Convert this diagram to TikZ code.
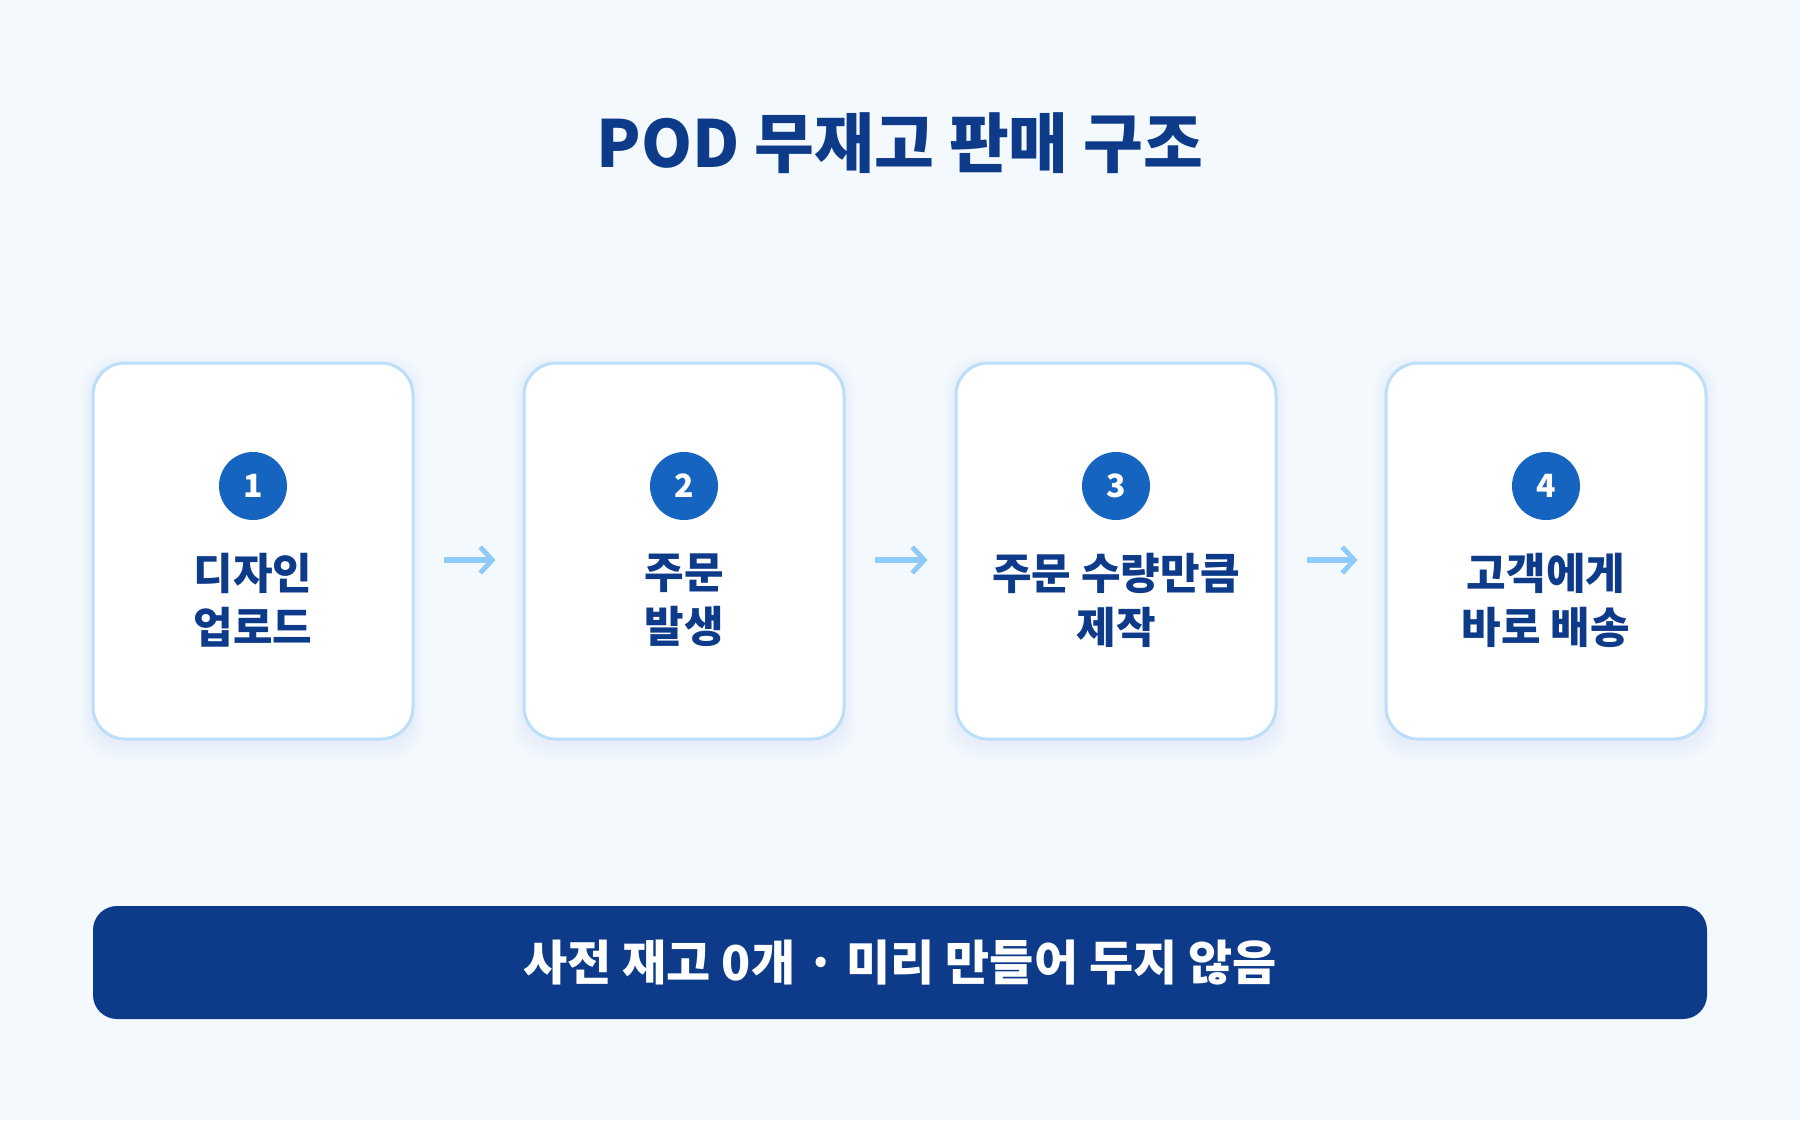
\documentclass[tikz,border=0pt]{standalone}
\usepackage{fontspec}
\setmainfont{Noto Sans CJK KR}
\usetikzlibrary{arrows.meta,shadows}
\definecolor{pagebg}{HTML}{F4F9FE}
\definecolor{cardline}{HTML}{BBDEFB}
\definecolor{badgeblue}{HTML}{1565C0}
\definecolor{navy}{HTML}{0D3B8A}
\definecolor{flowblue}{HTML}{90CAF9}
\definecolor{shade}{HTML}{7F9CD6}
\tikzset{
  card/.style={draw=cardline, line width=1.5pt, fill=white, rounded corners=16pt,
    minimum width=160pt, minimum height=188pt,
    general shadow={fill=shade, opacity=0.018, shadow scale=1.075, shadow yshift=-3pt},
    general shadow={fill=shade, opacity=0.022, shadow scale=1.055, shadow yshift=-3pt},
    general shadow={fill=shade, opacity=0.025, shadow scale=1.035, shadow yshift=-3pt},
    general shadow={fill=shade, opacity=0.03, shadow scale=1.015, shadow yshift=-2pt}},
  badge/.style={circle, fill=badgeblue, text=white, minimum size=34pt, inner sep=0pt,
    font=\bfseries\fontsize{16}{16}\selectfont},
  steptext/.style={align=center, text=navy, inner sep=0pt,
    font=\bfseries\fontsize{21.5}{27}\selectfont},
  flow/.style={draw=flowblue, line width=3.2pt,
    -{Straight Barb[length=6pt,width=13pt,line width=2.4pt]},
    shorten <=14.5pt, shorten >=13.5pt}
}
\begin{document}
\begin{tikzpicture}[x=0.5pt,y=-0.5pt]
	\fill[pagebg] (0,0) rectangle (1800,1120);
	\useasboundingbox (0,0) rectangle (1800,1120);
	
	\node[text=navy, font=\bfseries\fontsize{32.5}{32.5}\selectfont] (title) at (900,143) {POD 무재고 판매 구조};
	
	\node[card] (c1) at (253,551) {};
	\node[card] (c2) at (684,551) {};
	\node[card] (c3) at (1116,551) {};
	\node[card] (c4) at (1546,551) {};
	
	\node[badge] (n1) at (253,486) {1};
	\node[badge] (n2) at (684,486) {2};
	\node[badge] (n3) at (1116,486) {3};
	\node[badge] (n4) at (1546,486) {4};
	
	\node[steptext] (t1) at (253,600) {디자인\\업로드};
	\node[steptext] (t2) at (684,600) {주문\\발생};
	\node[steptext] (t3) at (1116,600) {주문 수량만큼\\제작};
	\node[steptext] (t4) at (1546,600) {고객에게\\바로 배송};
	
	\draw[flow] ([yshift=-4.5pt]c1.east) -- ([yshift=-4.5pt]c2.west);
	\draw[flow] ([yshift=-4.5pt]c2.east) -- ([yshift=-4.5pt]c3.west);
	\draw[flow] ([yshift=-4.5pt]c3.east) -- ([yshift=-4.5pt]c4.west);
	
	% bottom note
	\node[fill=navy, rounded corners=12pt, minimum width=807pt, minimum height=56.5pt,
	  text=white, font=\bfseries\fontsize{24}{24}\selectfont] (note) at (900,962.5)
	  {사전 재고 0개 · 미리 만들어 두지 않음};
\end{tikzpicture}
\end{document}
